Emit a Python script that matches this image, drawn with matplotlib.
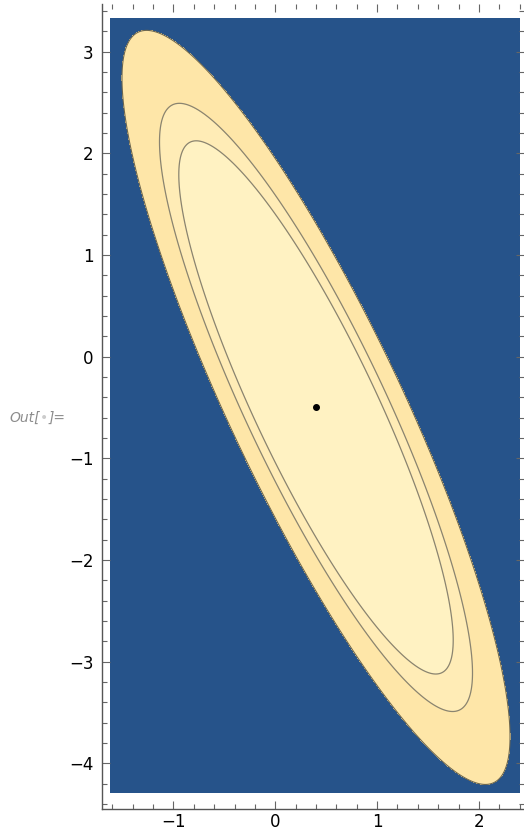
import numpy as np
import matplotlib.pyplot as plt
from matplotlib.patches import Rectangle
from matplotlib.ticker import MultipleLocator

# === Estimated parameters of the bivariate normal ===
mean = [0.40, -0.50]
sigma = [0.628, 1.222]
rho = -0.873
levels = [4.605, 5.991, 9.210]          # chi-square (2 dof) 90 / 95 / 99 %

plot_x = [-1.624, 2.404]                 # shaded plot range
plot_y = [-4.293, 3.330]
frame_x = [-1.702, 2.443]
frame_y = [-4.450, 3.468]

band_colors = ['#fff2c2', '#ffecb6', '#fee6a8']
bg_blue = '#26538a'

fig = plt.figure(figsize=(5.24, 8.31), dpi=100)
ax = fig.add_axes([102 / 524, 22 / 831, 422 / 524, 805 / 831])

# quadratic form (Mahalanobis distance squared) on a grid
gx = np.linspace(plot_x[0], plot_x[1], 600)
gy = np.linspace(plot_y[0], plot_y[1], 1000)
X, Y = np.meshgrid(gx, gy)
dx = (X - mean[0]) / sigma[0]
dy = (Y - mean[1]) / sigma[1]
Q = (dx**2 - 2 * rho * dx * dy + dy**2) / (1 - rho**2)

ax.add_patch(Rectangle((plot_x[0], plot_y[0]), plot_x[1] - plot_x[0],
                       plot_y[1] - plot_y[0], facecolor=bg_blue,
                       edgecolor='none', zorder=0))
ax.contourf(X, Y, Q, levels=[0] + levels, colors=band_colors, zorder=1)
ax.contour(X, Y, Q, levels=levels[:2], colors='#8a8470', linewidths=0.9, zorder=2)
ax.contour(X, Y, Q, levels=levels[2:], colors='#6b6650', linewidths=0.8, zorder=2)
ax.plot(mean[0], mean[1], 'o', color='black', markersize=4, zorder=3)

ax.set_xlim(frame_x)
ax.set_ylim(frame_y)

for s in ['top', 'right']:
    ax.spines[s].set_visible(False)
for s in ['left', 'bottom']:
    ax.spines[s].set_color('#555555')
    ax.spines[s].set_linewidth(1.0)

ax.xaxis.set_major_locator(MultipleLocator(1))
ax.xaxis.set_minor_locator(MultipleLocator(0.2))
ax.yaxis.set_major_locator(MultipleLocator(1))
ax.yaxis.set_minor_locator(MultipleLocator(0.2))
ax.tick_params(which='both', direction='in', top=True, right=True,
               color='#666666', width=0.8, labelsize=12)
ax.tick_params(axis='x', pad=3)
ax.tick_params(axis='y', pad=6)
ax.tick_params(which='major', length=5.5)
ax.tick_params(which='minor', length=3.5)

# Mathematica output label
fig.text(9 / 524, 1 - 418 / 831, 'Out[', color='#8c8c8c', fontsize=10,
         style='italic', va='center', ha='left')
fig.text(44 / 524, 1 - 418 / 831, '\u2022', color='#cccccc', fontsize=10,
         va='center', ha='center')
fig.text(49 / 524, 1 - 418 / 831, ']=', color='#8c8c8c', fontsize=10,
         style='italic', va='center', ha='left')

fig.savefig('out.png', dpi=100)
